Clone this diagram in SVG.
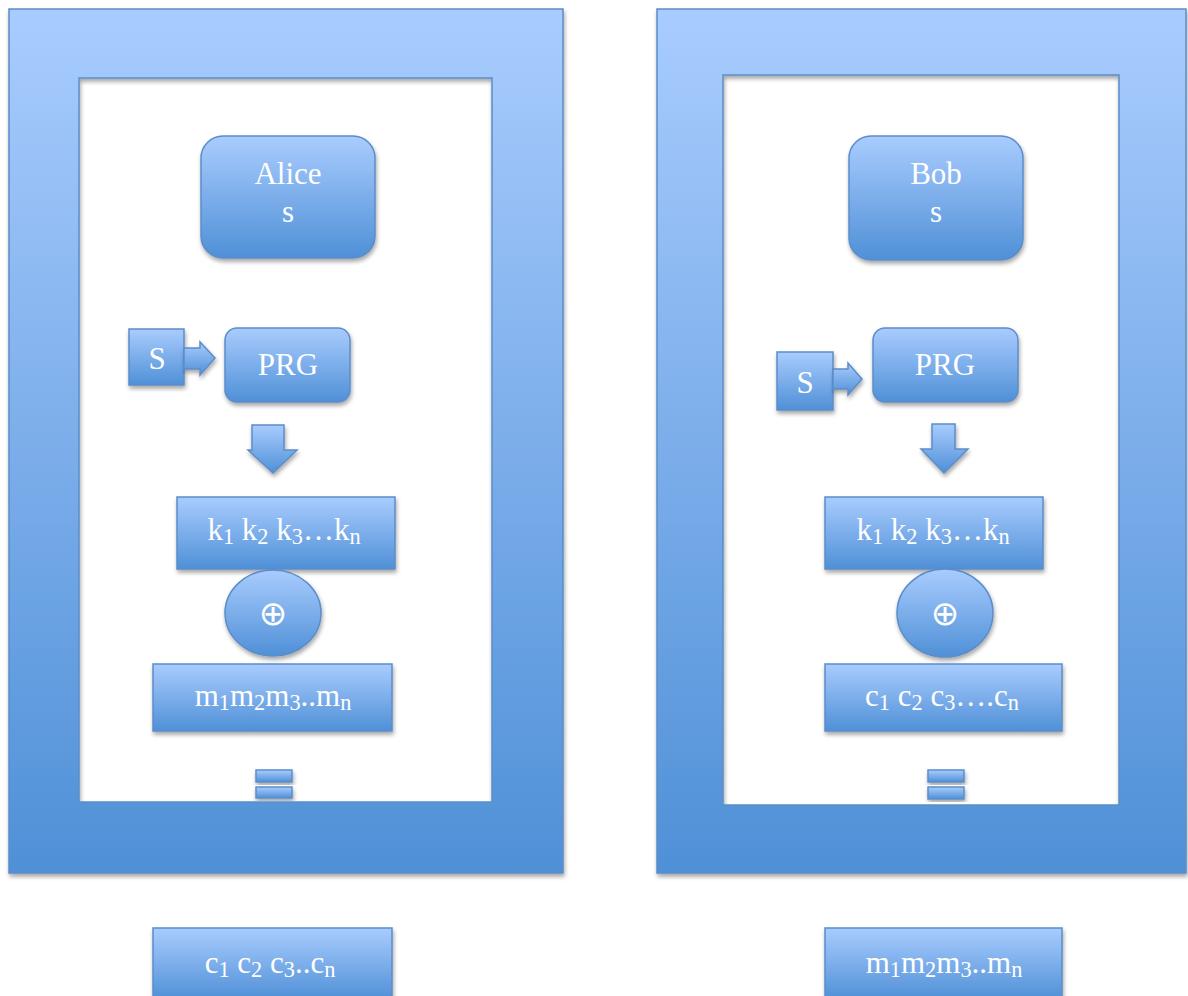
<svg xmlns="http://www.w3.org/2000/svg" width="1188" height="996" viewBox="0 0 1188 996">
<defs>
<linearGradient id="g" x1="0" y1="0" x2="0" y2="1">
<stop offset="0" stop-color="#A9CCFE"/>
<stop offset="1" stop-color="#4F90D7"/>
</linearGradient>
<filter id="sh" x="-10%" y="-10%" width="130%" height="130%">
<feDropShadow dx="1" dy="3" stdDeviation="2" flood-color="#000" flood-opacity="0.35"/>
</filter>
</defs>
<style>
.s{fill:url(#g);stroke:#5B8DC9;stroke-width:1.5;filter:url(#sh)}
.t{font-family:"Liberation Serif","DejaVu Serif",serif;fill:#fff;text-anchor:middle}
.big{font-size:31px}
.sub{font-size:0.72em}
.x{font-family:"DejaVu Sans",sans-serif;font-size:34px;fill:#fff;text-anchor:middle}
</style>
<rect width="1188" height="996" fill="#fff"/>
<g id="frame-left">
<path class="s" fill-rule="evenodd" d="M9 9H563V873H9Z M79 78V802H492V78Z"/>
</g>
<g id="frame-right">
<path class="s" fill-rule="evenodd" d="M657 9H1186V873H657Z M723 75V805H1119V75Z"/>
</g>
<g id="alice">
<rect class="s" x="201" y="136" width="174" height="122" rx="22"/>
<text class="t big" x="288" y="184">Alice</text>
<text class="t big" x="288" y="222">s</text>
</g>
<g id="s-left">
<rect class="s" x="129" y="329" width="55" height="56"/>
<text class="t big" x="157" y="369">S</text>
</g>
<g id="prg-left">
<rect class="s" x="225" y="328" width="125" height="74" rx="12"/>
<text class="t big" x="288" y="375">PRG</text>
</g>
<g id="k-left">
<rect class="s" x="177" y="497" width="218" height="72"/>
<text class="t big" x="284" y="540">k<tspan class="sub" dy="4">1</tspan><tspan dy="-4"> k</tspan><tspan class="sub" dy="4">2</tspan><tspan dy="-4"> k</tspan><tspan class="sub" dy="4">3</tspan><tspan dy="-4">…k</tspan><tspan class="sub" dy="4">n</tspan></text>
</g>
<g id="xor-left">
<ellipse class="s" cx="273" cy="613" rx="48" ry="43"/>
<text class="x" x="273" y="625">⊕</text>
</g>
<g id="m-left">
<rect class="s" x="153" y="664" width="239" height="67"/>
<text class="t big" x="273" y="706">m<tspan class="sub" dy="4">1</tspan><tspan dy="-4">m</tspan><tspan class="sub" dy="4">2</tspan><tspan dy="-4">m</tspan><tspan class="sub" dy="4">3</tspan><tspan dy="-4">..m</tspan><tspan class="sub" dy="4">n</tspan></text>
</g>
<g id="eq-left">
<rect class="s" x="256" y="770" width="36" height="12"/>
<rect class="s" x="256" y="787" width="36" height="11"/>
</g>
<g id="c-bottom-left">
<rect class="s" x="153" y="928" width="239" height="72"/>
<text class="t big" x="270" y="973">c<tspan class="sub" dy="4">1</tspan><tspan dy="-4"> c</tspan><tspan class="sub" dy="4">2</tspan><tspan dy="-4"> c</tspan><tspan class="sub" dy="4">3</tspan><tspan dy="-4">..c</tspan><tspan class="sub" dy="4">n</tspan></text>
</g>
<g id="bob">
<rect class="s" x="849" y="136" width="174" height="124" rx="22"/>
<text class="t big" x="936" y="184">Bob</text>
<text class="t big" x="936" y="222">s</text>
</g>
<g id="s-right">
<rect class="s" x="777" y="352" width="56" height="58"/>
<text class="t big" x="805" y="393">S</text>
</g>
<g id="prg-right">
<rect class="s" x="873" y="328" width="145" height="74" rx="12"/>
<text class="t big" x="945" y="375">PRG</text>
</g>
<g id="k-right">
<rect class="s" x="825" y="497" width="218" height="72"/>
<text class="t big" x="933" y="540">k<tspan class="sub" dy="4">1</tspan><tspan dy="-4"> k</tspan><tspan class="sub" dy="4">2</tspan><tspan dy="-4"> k</tspan><tspan class="sub" dy="4">3</tspan><tspan dy="-4">…k</tspan><tspan class="sub" dy="4">n</tspan></text>
</g>
<g id="xor-right">
<ellipse class="s" cx="945" cy="613" rx="48" ry="44"/>
<text class="x" x="945" y="625">⊕</text>
</g>
<g id="c-right">
<rect class="s" x="825" y="664" width="237" height="67"/>
<text class="t big" x="942" y="706">c<tspan class="sub" dy="4">1</tspan><tspan dy="-4"> c</tspan><tspan class="sub" dy="4">2</tspan><tspan dy="-4"> c</tspan><tspan class="sub" dy="4">3</tspan><tspan dy="-4">….c</tspan><tspan class="sub" dy="4">n</tspan></text>
</g>
<g id="eq-right">
<rect class="s" x="928" y="770" width="36" height="12"/>
<rect class="s" x="928" y="787" width="36" height="12"/>
</g>
<g id="m-bottom-right">
<rect class="s" x="825" y="928" width="237" height="72"/>
<text class="t big" x="944" y="973">m<tspan class="sub" dy="4">1</tspan><tspan dy="-4">m</tspan><tspan class="sub" dy="4">2</tspan><tspan dy="-4">m</tspan><tspan class="sub" dy="4">3</tspan><tspan dy="-4">..m</tspan><tspan class="sub" dy="4">n</tspan></text>
</g>
<g id="connectors">
<path class="s" d="M184 348H200V342L215 358L200 375V369H184Z"/>
<path class="s" d="M252 425H284V450H297L273 473L248 450H252Z"/>
<path class="s" d="M833 369H848V363L862 379L848 395V389H833Z"/>
<path class="s" d="M932 424H955V449H968L944 473L921 449H932Z"/>
</g>
</svg>
